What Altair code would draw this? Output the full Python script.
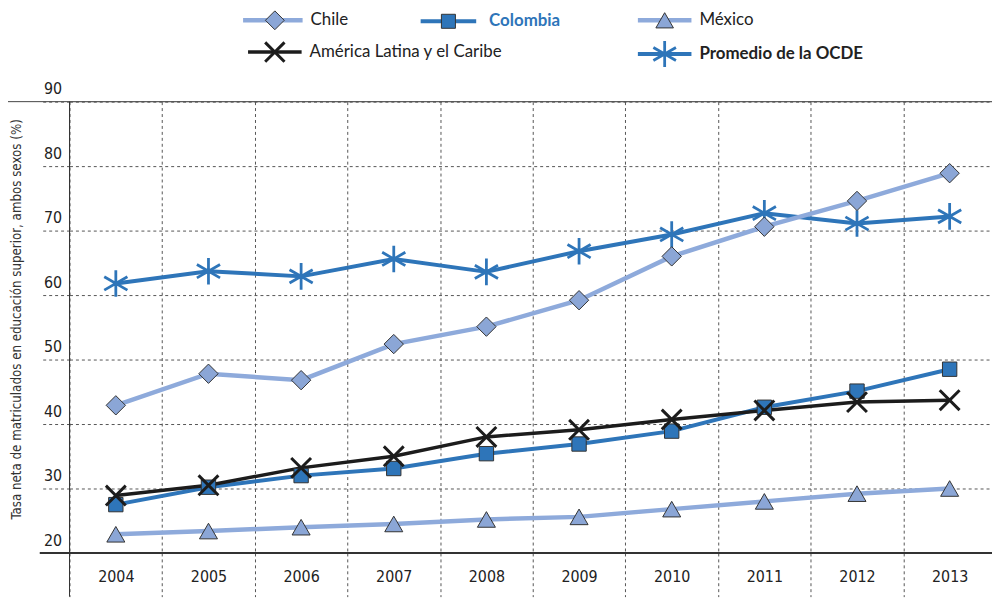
import altair as alt
import pandas as pd

years = ["2004", "2005", "2006", "2007", "2008", "2009", "2010", "2011", "2012", "2013"]
chile = [42.9, 47.8, 46.8, 52.4, 55.1, 59.2, 66.0, 70.6, 74.6, 78.9]
colombia = [27.5, 30.2, 32.0, 33.1, 35.4, 36.9, 38.9, 42.6, 45.1, 48.5]
mexico = [22.9, 23.4, 24.0, 24.5, 25.2, 25.6, 26.8, 28.0, 29.2, 30.0]
alc = [28.9, 30.5, 33.2, 35.0, 38.0, 39.1, 40.7, 42.1, 43.4, 43.7]
ocde = [61.8, 63.7, 62.9, 65.6, 63.6, 66.8, 69.4, 72.7, 71.1, 72.2]
y_ticks = [20, 30, 40, 50, 60, 70, 80, 90]
y_title = "Tasa neta de matriculados en educación superior, ambos sexos (%)"

names = ["Chile", "Colombia", "México", "América Latina y el Caribe", "Promedio de la OCDE"]
series = [chile, colombia, mexico, alc, ocde]

rows = []
for n, vals in zip(names, series):
    for yr, v in zip(years, vals):
        rows.append({"serie": n, "year": yr, "value": v})
df = pd.DataFrame(rows)

W, H = 930, 455
BANDW = 934
TICK_FONT = "DejaVu Sans Condensed, Liberation Sans Narrow, sans-serif"
LEG_FONT = "Lato, Open Sans, sans-serif"
GRID = "#555555"

LIGHT = "#8eaadb"
LIGHT_FILL = "#8ba6d6"
BLUE = "#2e75b9"
BLACK = "#1c1c1c"
X_PATH = "M-1,-1L1,1M-1,1L1,-1"
AST_PATH = "M0,-1L0,1M-0.87,-0.5L0.87,0.5M-0.87,0.5L0.87,-0.5"

styles = {
    "Chile": dict(line=LIGHT, lw=4.5, shape="diamond", size=380, filled=True, fill=LIGHT_FILL, stroke="#333333", sw=1),
    "Colombia": dict(line=BLUE, lw=4, shape="square", size=210, filled=True, fill=BLUE, stroke="#333333", sw=1),
    "México": dict(line=LIGHT, lw=4.5, shape="triangle-up", size=330, filled=True, fill=LIGHT_FILL, stroke="#333333", sw=1),
    "América Latina y el Caribe": dict(line=BLACK, lw=3.5, shape=X_PATH, size=400, filled=False, fill=None, stroke=BLACK, sw=3),
    "Promedio de la OCDE": dict(line=BLUE, lw=4, shape=AST_PATH, size=720, filled=False, fill=None, stroke=BLUE, sw=2.8),
}

x_enc = alt.X(
    "year:N",
    sort=years,
    scale=alt.Scale(type="band", paddingInner=0, paddingOuter=0, range=[0, BANDW]),
    axis=alt.Axis(
        title=None, domain=False, tickBand="extent",
        grid=True, gridDash=[3, 3], gridColor=GRID, gridWidth=1,
        ticks=True, tickSize=44, tickDash=[3, 3], tickColor=GRID, tickWidth=1,
        labelFont=TICK_FONT, labelFontSize=16, labelColor="#222222",
        labelPadding=-28, labelAngle=0,
    ),
)
y_scale = alt.Scale(domain=[20, 90], nice=False, zero=False)
y_enc = alt.Y(
    "value:Q",
    scale=y_scale,
    axis=alt.Axis(
        values=y_ticks, title=y_title, domain=False,
        grid=True, gridDash=[3, 3], gridColor=GRID, gridWidth=1,
        ticks=True, tickSize=30, tickDash=[3, 3], tickColor=GRID, tickWidth=1,
        labelFont=TICK_FONT, labelFontSize=16, labelColor="#222222",
        labelPadding=-22, labelOffset=-13, labelAlign="right", labelBaseline="middle",
        titleFont=TICK_FONT, titleFontSize=13.3, titleFontWeight="normal", titleColor="#333333",
        titleAngle=270, titleX=-53, titleY=219, titleAlign="center", titleBaseline="middle",
    ),
)

base = alt.Chart(df)

layers = []
layers.append(
    alt.Chart(pd.DataFrame({"v": [90]})).mark_rule(color="#444444", strokeWidth=1).encode(
        y=alt.Y("v:Q", scale=y_scale), x=alt.value(-63), x2=alt.value(W)
    )
)
layers.append(
    alt.Chart(pd.DataFrame({"v": [20]})).mark_rule(color="#333333", strokeWidth=2).encode(
        y=alt.Y("v:Q", scale=y_scale), x=alt.value(-30), x2=alt.value(W)
    )
)
layers.append(
    alt.Chart(pd.DataFrame({"v": [0]})).mark_rule(color="#333333", strokeWidth=1).encode(
        x=alt.value(0), y=alt.value(0), y2=alt.value(H + 44)
    )
)

order = ["Promedio de la OCDE", "Chile", "México", "Colombia", "América Latina y el Caribe"]
first = True
for n in order:
    s = styles[n]
    sub = base.transform_filter(alt.datum.serie == n)
    if first:
        line = sub.mark_line(color=s["line"], strokeWidth=s["lw"]).encode(x=x_enc, y=y_enc)
        first = False
    else:
        line = sub.mark_line(color=s["line"], strokeWidth=s["lw"]).encode(x=alt.X("year:N", sort=years), y="value:Q")
    layers.append(line)
for n in order:
    s = styles[n]
    sub = base.transform_filter(alt.datum.serie == n)
    kw = dict(shape=s["shape"], size=s["size"], filled=s["filled"], stroke=s["stroke"], strokeWidth=s["sw"], opacity=1)
    if s["filled"]:
        kw["fill"] = s["fill"]
    pts = sub.mark_point(**kw).encode(x=alt.X("year:N", sort=years), y="value:Q")
    layers.append(pts)

# manual legend (pixel positions relative to plot origin)
legend_pos = {
    "Chile": (175, 235, 207, 243, -82),
    "Colombia": (354, 410, 382, 423, -81),
    "México": (573, 627, 600, 635, -82),
    "América Latina y el Caribe": (180, 234, 207, 242, -50),
    "Promedio de la OCDE": (573, 627, 600, 635, -48),
}
for n in names:
    s = styles[n]
    x1, x2, mx, tx, ly = legend_pos[n]
    ldf = pd.DataFrame({"label": [n]})
    layers.append(
        alt.Chart(ldf).mark_rule(color=s["line"], strokeWidth=s["lw"]).encode(
            x=alt.value(x1), x2=alt.value(x2), y=alt.value(ly)
        )
    )
    kw = dict(shape=s["shape"], size=s["size"] * 0.95, filled=s["filled"], stroke=s["stroke"], strokeWidth=s["sw"], opacity=1)
    if s["filled"]:
        kw["fill"] = s["fill"]
    layers.append(alt.Chart(ldf).mark_point(**kw).encode(x=alt.value(mx), y=alt.value(ly)))
    bold = n in ("Colombia", "Promedio de la OCDE")
    tcolor = BLUE if n == "Colombia" else "#222222"
    layers.append(
        alt.Chart(ldf).mark_text(
            align="left", baseline="middle", font=LEG_FONT, fontSize=17,
            fontWeight="bold" if bold else "normal", color=tcolor,
        ).encode(x=alt.value(tx), y=alt.value(ly), text="label:N")
    )

chart = alt.layer(*layers).properties(
    width=W, height=H,
    padding={"left": 62, "top": 92, "right": 0, "bottom": 44},
    autosize=alt.AutoSizeParams(type="none"),
).configure_view(stroke=None).configure(background="white")

chart.save("out.html", embed_options={"renderer": "svg", "actions": False})
